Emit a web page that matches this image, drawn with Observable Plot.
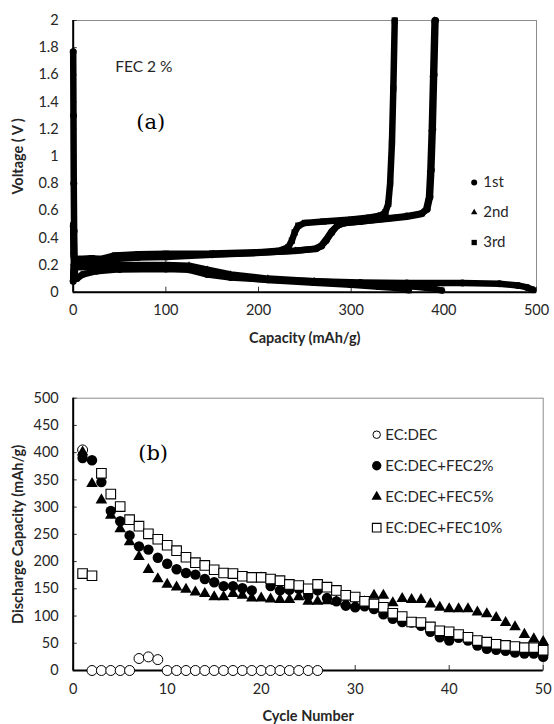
<!DOCTYPE html>
<html>
<head>
<meta charset="utf-8">
<script src="https://cdn.jsdelivr.net/npm/d3@7"></script>
<script src="https://cdn.jsdelivr.net/npm/@observablehq/plot@0.6"></script>
<style>
  body { margin: 0; background: #fff; }
  #chart svg { display: block; }
</style>
</head>
<body>
<div id="chart"></div>
<script>
// ---------- Panel (a): voltage profiles, FEC 2 % cell ----------
// [capacity mAh/g, voltage V]
const discharge1 = [[0,1.77],[0.3,1.3],[0.6,0.8],[1,0.45],[1.5,0.25],[2,0.12],[4,0.1],[10,0.13],[25,0.155],[50,0.168],[100,0.17],[125,0.165],[145,0.13],[170,0.108],[210,0.092],[260,0.08],[310,0.072],[360,0.068],[420,0.067],[460,0.062],[480,0.05],[490,0.035],[496,0.018]];
const discharge2 = [[0,0.5],[0.5,0.3],[1,0.22],[5,0.2],[20,0.195],[50,0.2],[100,0.2],[125,0.195],[145,0.165],[170,0.13],[210,0.1],[260,0.08],[300,0.065],[340,0.05],[370,0.04],[390,0.025],[398,0.012]];
const discharge3 = [[0,0.45],[0.5,0.28],[1,0.2],[5,0.185],[20,0.18],[50,0.185],[100,0.185],[125,0.18],[145,0.15],[170,0.12],[210,0.09],[260,0.07],[300,0.055],[330,0.04],[350,0.03],[362,0.015]];
const charge1 = [[0,0.08],[1,0.2],[5,0.225],[20,0.23],[30,0.225],[45,0.245],[70,0.255],[100,0.26],[150,0.275],[200,0.29],[240,0.305],[262,0.32],[268,0.34],[273,0.38],[279,0.44],[285,0.49],[293,0.51],[310,0.52],[340,0.545],[360,0.56],[376,0.58],[382,0.61],[385,0.7],[386.5,0.9],[388,1.2],[389.5,1.6],[391,2.0]];
const charge2 = [[0,0.1],[1,0.21],[5,0.235],[20,0.24],[30,0.235],[45,0.26],[70,0.27],[100,0.272],[150,0.28],[200,0.29],[240,0.305],[262,0.32],[268,0.345],[273,0.39],[279,0.45],[286,0.495],[293,0.51],[310,0.52],[340,0.54],[360,0.555],[376,0.575],[381,0.61],[384,0.7],[385.5,0.9],[387,1.2],[388.5,1.6],[390,2.0]];
const charge3 = [[0,0.12],[1,0.22],[5,0.245],[20,0.25],[30,0.245],[45,0.27],[70,0.28],[100,0.283],[150,0.285],[200,0.295],[222,0.305],[232,0.33],[236,0.38],[239,0.44],[243,0.49],[250,0.51],[270,0.52],[300,0.535],[320,0.55],[332,0.565],[337,0.59],[340,0.65],[342,0.8],[344,1.1],[345.5,1.5],[347,2.0]];

const cycleNamesA = ["1st", "2nd", "3rd"];
const cycleSymbolsA = ["circle", "triangle", "square"];
const capTicks = [0, 100, 200, 300, 400, 500];
const capTickLabels = ["0", "100", "200", "300", "400", "500"];
const voltTicks = [0, 0.2, 0.4, 0.6, 0.8, 1, 1.2, 1.4, 1.6, 1.8, 2];
const voltTickLabels = ["0", "0.2", "0.4", "0.6", "0.8", "1", "1.2", "1.4", "1.6", "1.8", "2"];

// ---------- Panel (b): discharge capacity vs. cycle ----------
const cycles = [1,2,3,4,5,6,7,8,9,10,11,12,13,14,15,16,17,18,19,20,21,22,23,24,25,26,27,28,29,30,31,32,33,34,35,36,37,38,39,40,41,42,43,44,45,46,47,48,49,50];
const capEcDec = [405,0,0,0,0,0,22,25,20,0,0,0,0,0,0,0,0,0,0,0,0,0,0,0,0,0];
const capFec2 = [390,386,346,293,274,248,228,222,207,196,186,179,176,168,162,155,155,151,147,172,155,147,148,150,137,147,133,127,119,116,118,113,103,95,89,88,82,71,61,55,60,55,46,40,38,36,33,31,31,25];
const capFec5 = [401,343,313,285,260,236,209,185,168,158,153,149,144,141,135,135,141,138,133,133,131,130,130,135,127,127,128,127,124,121,126,138,138,124,132,130,130,122,116,113,113,113,107,104,97,88,80,66,58,53];
const capFec10 = [178,174,362,324,301,277,265,251,241,230,220,208,198,193,185,179,178,173,171,171,168,165,158,156,150,158,153,147,138,135,127,122,116,105,99,89,88,80,73,71,66,61,55,52,48,46,44,42,42,37];

const seriesNamesB = ["EC:DEC", "EC:DEC+FEC2%", "EC:DEC+FEC5%", "EC:DEC+FEC10%"];
const cycleTicks = [0, 10, 20, 30, 40, 50];
const cycleTickLabels = ["0", "10", "20", "30", "40", "50"];
const dcTicks = [0, 50, 100, 150, 200, 250, 300, 350, 400, 450, 500];
const dcTickLabels = ["0", "50", "100", "150", "200", "250", "300", "350", "400", "450", "500"];

const FONT = "Lato, 'Open Sans', sans-serif";
const INK = "#262626";
const TICK_FONT = 14.5;
const LABEL_FONT = 14.5;

const baseStyle = {fontFamily: FONT, fontSize: TICK_FONT + "px", color: INK, background: "white", overflow: "visible"};

// Excel-like frame: black left/bottom axes, light grey top/right edges, inward ticks
function frameMarks(xTicks, xLabels, yTicks, yLabels) {
  return [
    Plot.frame({stroke: "#8c8c8c", strokeWidth: 1}),
    Plot.axisX({ticks: xTicks, tickFormat: d => xLabels[xTicks.indexOf(d)], tickSize: -5, tickPadding: 18, label: null, stroke: "#333", fill: INK, fontSize: TICK_FONT}),
    Plot.axisY({ticks: yTicks, tickFormat: d => yLabels[yTicks.indexOf(d)], tickSize: -4, tickPadding: 18.5, label: null, stroke: "#333", fill: INK, fontSize: TICK_FONT}),
    Plot.ruleX([xTicks[0]], {stroke: "black", strokeWidth: 2}),
    Plot.ruleY([yTicks[0]], {stroke: "black", strokeWidth: 2})
  ];
}

// text pinned to the frame, centred on its anchor point
const note = (label, options) => Plot.text([label], {text: d => d, textAnchor: "middle", lineAnchor: "middle", fill: INK, ...options});

const profiles = [
  [discharge1, charge1],
  [discharge2, charge2],
  [discharge3, charge3]
];

const profileMarks = profiles.flatMap((pair, i) => pair.flatMap(curve => [
  Plot.line(curve, {x: d => d[0], y: d => d[1], stroke: "black", strokeWidth: 6.5, strokeLinejoin: "round"}),
  Plot.dot(curve, {x: d => d[0], y: d => d[1], symbol: cycleSymbolsA[i], r: i === 1 ? 2.8 : 3.5, fill: "black", stroke: "none"})
]));

const legendA = cycleNamesA.flatMap((name, i) => [
  Plot.dot([name], {frameAnchor: "top-left", dx: 401, dy: 162 + 30 * i, symbol: cycleSymbolsA[i], r: i === 1 ? 2.4 : 3, fill: "black", stroke: "none"}),
  note(name, {frameAnchor: "top-left", dx: 410, dy: 162 + 30 * i, textAnchor: "start", fontSize: 15})
]);

const chartA = Plot.plot({
  width: 554,
  height: 350,
  marginLeft: 72.7,
  marginRight: 18,
  marginTop: 20,
  marginBottom: 58.3,
  style: baseStyle,
  x: {domain: [0, 500]},
  y: {domain: [0, 2]},
  marks: [
    ...frameMarks(capTicks, capTickLabels, voltTicks, voltTickLabels),
    ...profileMarks,
    note("FEC 2 %", {frameAnchor: "top-left", dx: 42, dy: 47, textAnchor: "start", fontSize: 15.5}),
    note("(a)", {frameAnchor: "top-left", dx: 63, dy: 102, textAnchor: "start", fontFamily: "'DejaVu Serif', serif", fontSize: 21, fill: "black"}),
    ...legendA,
    note("Voltage ( V )", {frameAnchor: "left", dx: -55, rotate: -90, fontWeight: "bold", fontSize: LABEL_FONT}),
    note("Capacity (mAh/g)", {frameAnchor: "bottom", dy: 46, fontWeight: "bold", fontSize: LABEL_FONT})
  ]
});

const rows = (values) => values.map((v, i) => ({cycle: cycles[i], cap: v}));

const symbolStyles = [
  {symbol: "circle", r: 5, fill: "white", stroke: "black", strokeWidth: 1},
  {symbol: "circle", r: 5.2, fill: "black", stroke: "none"},
  {symbol: "triangle", r: 4.3, fill: "black", stroke: "none"},
  {symbol: "square", r: 5.4, fill: "white", stroke: "black", strokeWidth: 1.1}
];
const seriesB = [capEcDec, capFec2, capFec5, capFec10];

const legendB = seriesNamesB.flatMap((name, i) => [
  Plot.dot([name], {frameAnchor: "top-left", dx: 303.5, dy: 36.5 + 31 * i, ...symbolStyles[i], r: symbolStyles[i].r * (i === 0 ? 0.75 : 0.9)}),
  note(name, {frameAnchor: "top-left", dx: 312, dy: 36.5 + 31 * i, textAnchor: "start", fontSize: 15})
]);

const chartB = Plot.plot({
  width: 554,
  height: 374,
  marginLeft: 72.7,
  marginRight: 11.3,
  marginTop: 47.7,
  marginBottom: 54,
  style: baseStyle,
  x: {domain: [0, 50]},
  y: {domain: [0, 500]},
  marks: [
    ...frameMarks(cycleTicks, cycleTickLabels, dcTicks, dcTickLabels),
    ...seriesB.map((vals, i) => Plot.dot(rows(vals), {x: "cycle", y: "cap", ...symbolStyles[i]})),
    note("(b)", {frameAnchor: "top-left", dx: 65, dy: 55, textAnchor: "start", fontFamily: "'DejaVu Serif', serif", fontSize: 21, fill: "black"}),
    ...legendB,
    note("Discharge Capacity (mAh/g)", {frameAnchor: "left", dx: -55, rotate: -90, fontWeight: "bold", fontSize: LABEL_FONT}),
    note("Cycle Number", {frameAnchor: "bottom", dy: 46, fontWeight: "bold", fontSize: LABEL_FONT})
  ]
});

const root = document.getElementById("chart");
root.append(chartA, chartB);
</script>
</body>
</html>
